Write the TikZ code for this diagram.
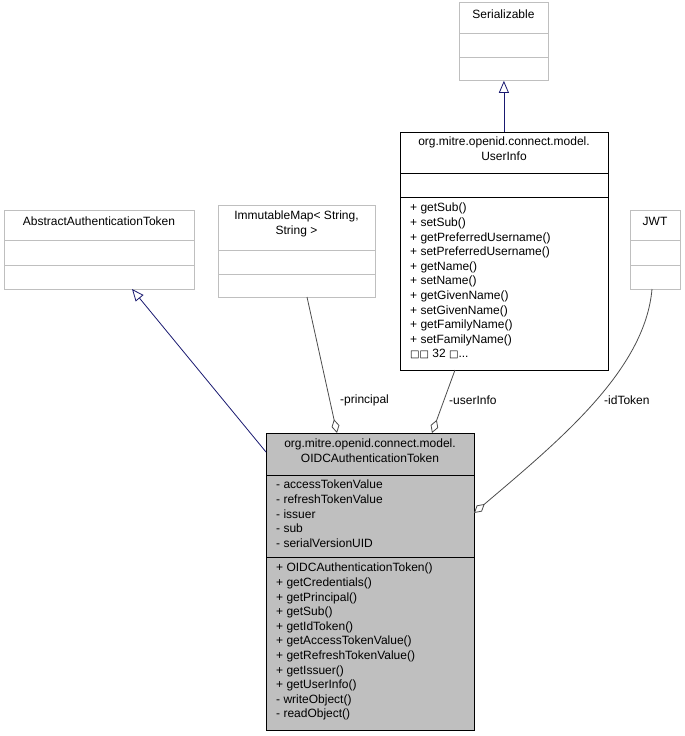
\documentclass[tikz,border=0pt]{standalone}
\usepackage{fontspec}
\setmainfont{Liberation Sans}
\newfontfamily\dvs{DejaVu Sans}
\usetikzlibrary{arrows.meta}
\definecolor{gline}{HTML}{BFBFBF}
\definecolor{navy}{HTML}{191970}
\tikzset{
  gbox/.style={draw=gline,line width=0.8pt,anchor=north west,inner sep=0,fill=white},
  bbox/.style={draw=black,line width=0.8pt,anchor=north west,inner sep=0},
  ttl/.style={anchor=north,align=center,inner sep=0,font=\fontsize{12}{14.5}\selectfont},
  mem/.style={anchor=north west,align=left,inner sep=0,font=\fontsize{12}{14.6}\selectfont},
  inh/.style={navy,line width=0.8pt,-{Triangle[open,length=12pt,width=10pt,fill=white]}},
  agg/.style={draw=black!70,line width=0.8pt,-{Diamond[open,length=14pt,width=8pt,fill=white]}},
  lbl/.style={inner sep=0,font=\fontsize{12}{13}\selectfont}
}
\begin{document}
\begin{tikzpicture}[x=1pt,y=-1pt]
\useasboundingbox (0,0) rectangle (685,736);
% Serializable
\node[gbox,minimum width=89pt,minimum height=78pt] (ser) at (459,2) {};
\draw[gline,line width=0.8pt] (459,33) -- (548,33) (459,57) -- (548,57);
\node[ttl] at (503.5,10) {Serializable};
% UserInfo
\node[bbox,minimum width=208pt,minimum height=238pt] (ui) at (400,132) {};
\draw[line width=0.8pt] (400,173) -- (608,173) (400,197) -- (608,197);
\node[ttl] at (504,137) {org.mitre.openid.connect.model.\\UserInfo};
\node[mem] at (410,203) {+ getSub()\\+ setSub()\\+ getPreferredUsername()\\+ setPreferredUsername()\\+ getName()\\+ setName()\\+ getGivenName()\\+ setGivenName()\\+ getFamilyName()\\+ setFamilyName()\\{\dvs\fontsize{10}{10}\selectfont □□} 32 {\dvs\fontsize{10}{10}\selectfont □}...};
% AbstractAuthenticationToken
\node[gbox,minimum width=190pt,minimum height=79pt] (aat) at (4,210) {};
\draw[gline,line width=0.8pt] (4,240) -- (194,240) (4,265) -- (194,265);
\node[ttl] at (99,217) {AbstractAuthenticationToken};
% ImmutableMap
\node[gbox,minimum width=157pt,minimum height=92pt] (im) at (218,205) {};
\draw[gline,line width=0.8pt] (218,250) -- (375,250) (218,274) -- (375,274);
\node[ttl] at (296.5,211) {ImmutableMap< String,\\String >};
% JWT
\node[gbox,minimum width=50pt,minimum height=79pt] (jwt) at (630,210) {};
\draw[gline,line width=0.8pt] (630,240) -- (680,240) (630,265) -- (680,265);
\node[ttl] at (655,217) {JWT};
% Main
\node[bbox,fill=gline,minimum width=208pt,minimum height=297pt] (main) at (266,433) {};
\draw[line width=0.8pt] (266,475) -- (474,475) (266,557) -- (474,557);
\node[ttl] at (370,439) {org.mitre.openid.connect.model.\\OIDCAuthenticationToken};
\node[mem] at (276,480) {- accessTokenValue\\- refreshTokenValue\\- issuer\\- sub\\- serialVersionUID};
\node[mem] at (276,563) {+ OIDCAuthenticationToken()\\+ getCredentials()\\+ getPrincipal()\\+ getSub()\\+ getIdToken()\\+ getAccessTokenValue()\\+ getRefreshTokenValue()\\+ getIssuer()\\+ getUserInfo()\\- writeObject()\\- readObject()};
% connectors
\coordinate (mA) at (266,452);
\coordinate (aB) at (132,289);
\draw[inh] (mA) -- (aB);
\draw[inh] (ui.north -| ser.south) -- (ser.south);
\coordinate (imB) at (307,297);
\coordinate (mP) at (337,433);
\draw[agg] (imB) -- (mP);
\node[lbl,anchor=west] at (340,400) {-principal};
\coordinate (uiB) at (455,370);
\coordinate (mU) at (432,433);
\draw[agg] (uiB) -- (mU);
\node[lbl,anchor=west] at (449,400) {-userInfo};
\coordinate (jB) at (652,289);
\coordinate (mJ) at (474,513);
\draw[agg] (jB) .. controls (645,370) and (560,440) .. (mJ);
\node[lbl,anchor=west] at (604,400) {-idToken};
\end{tikzpicture}
\end{document}
